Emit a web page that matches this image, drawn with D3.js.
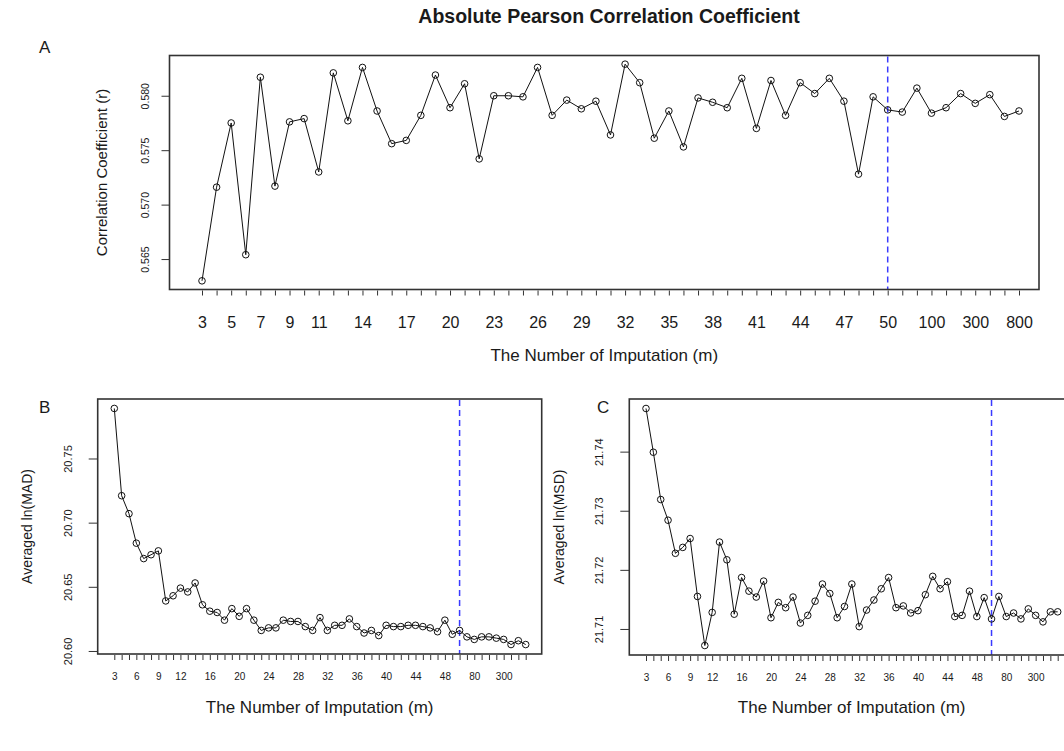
<!DOCTYPE html>
<html>
  <head>
    <meta charset="utf-8">
    <title>Absolute Pearson Correlation Coefficient</title>
    <script src="https://d3js.org/d3.v7.min.js"></script>
    <style>
      body { margin: 0; background: #fff; }
      text { font-family: "Liberation Sans", Arial, sans-serif; fill: #1a1a1a; }
    </style>
  </head>
  <body>

    <svg id="grafico" width="1064" height="751"></svg>

    <script>
    // number of imputations (m) -- one category per point
    const mLevels = ["3","4","5","6","7","8","9","10","11","12","13","14","15","16","17","18","19","20",
      "21","22","23","24","25","26","27","28","29","30","31","32","33","34","35","36","37","38","39","40",
      "41","42","43","44","45","46","47","48","49","50","60","80","100","150","200","300","400","600","800"];

    // panel A: absolute pearson r
    const pearsonR = [0.5630,0.5716,0.5775,0.5654,0.5817,0.5717,0.5776,0.5779,0.5730,0.5821,
      0.5777,0.5826,0.5786,0.5756,0.5759,0.5782,0.5819,0.5789,0.5811,0.5742,
      0.5800,0.5800,0.5799,0.5826,0.5782,0.5796,0.5788,0.5795,0.5764,0.5829,
      0.5812,0.5761,0.5786,0.5753,0.5798,0.5794,0.5789,0.5816,0.5770,0.5814,
      0.5782,0.5812,0.5802,0.5816,0.5795,0.5728,0.5799,0.5787,0.5785,0.5807,
      0.5784,0.5789,0.5802,0.5793,0.5801,0.5781,0.5786];

    // panel B: averaged ln(MAD)
    const lnMAD = [20.789,20.721,20.707,20.684,20.672,20.675,20.678,20.639,20.643,20.649,
      20.646,20.653,20.636,20.631,20.630,20.624,20.633,20.627,20.633,20.624,
      20.616,20.618,20.618,20.624,20.623,20.623,20.619,20.616,20.626,20.616,
      20.620,20.620,20.625,20.619,20.614,20.616,20.612,20.620,20.619,20.619,
      20.620,20.620,20.619,20.618,20.615,20.624,20.613,20.616,20.611,20.609,
      20.611,20.611,20.610,20.609,20.605,20.608,20.605];

    // panel C: averaged ln(MSD)
    const lnMSD = [21.7473,21.7399,21.7319,21.7284,21.7228,21.7238,21.7253,21.7155,21.7072,21.7128,
      21.7247,21.7217,21.7125,21.7187,21.7164,21.7154,21.7181,21.7119,21.7145,21.7136,
      21.7154,21.7110,21.7123,21.7147,21.7176,21.7160,21.7119,21.7138,21.7176,21.7104,
      21.7132,21.7149,21.7168,21.7187,21.7136,21.7139,21.7127,21.7131,21.7158,21.7189,
      21.7168,21.7180,21.7121,21.7123,21.7164,21.7121,21.7153,21.7117,21.7155,21.7121,
      21.7127,21.7117,21.7134,21.7123,21.7112,21.7129,21.7129];

    // tick labels that R managed to print
    const xLabelsA = ["3","5","7","9","11","14","17","20","23","26","29","32","35","38","41","44","47","50","100","300","800"];
    const xLabelsBC = ["3","6","9","12","16","20","24","28","32","36","40","44","48","80","300"];
    const yTicksA = [0.565, 0.570, 0.575, 0.580];
    const yTicksB = [20.60, 20.65, 20.70, 20.75];
    const yTicksC = [21.71, 21.72, 21.73, 21.74];
    const cutoffM = "50";

    const svg = d3.select("#grafico");
    svg.append("rect").attr("width",1064).attr("height",751).attr("fill","#fff");

    // title
    svg.append("text")
      .attr("x",609).attr("y",23)
      .attr("text-anchor","middle")
      .attr("font-size",19.5).attr("font-weight","bold")
      .text("Absolute Pearson Correlation Coefficient");

    function drawPanel(p){
      let g = svg.append("g");

      let x = d3.scalePoint().domain(mLevels).range([p.x0, p.x1]);
      // R style: data range + 4%
      let ext = d3.extent(p.values);
      let pad = (ext[1]-ext[0])*0.04;
      let y = d3.scaleLinear().domain([ext[0]-pad, ext[1]+pad]).range([p.bottom, p.top]);

      // x axis
      let xAxis = d3.axisBottom(x)
        .tickSize(p.xTick)
        .tickFormat(d => p.xLabels.includes(d) ? d : "");
      let gx = g.append("g").attr("transform","translate(0,"+(p.bottom+1)+")").call(xAxis);
      gx.select(".domain").remove();
      gx.selectAll("line").attr("stroke","#333");
      gx.selectAll("text")
        .attr("font-size",p.xFont)
        .attr("fill","#1a1a1a")
        .attr("font-family","Liberation Sans, Arial, sans-serif")
        .attr("y",p.xLabelY)
        .attr("dy",0);

      // y axis, labels rotated like R's las=0
      let yAxis = d3.axisLeft(y).tickValues(p.yTicks).tickSize(p.yTick).tickFormat(d3.format(p.yFmt));
      let gy = g.append("g").attr("transform","translate("+p.left+",0)").call(yAxis);
      gy.select(".domain").remove();
      gy.selectAll("line").attr("stroke","#333");
      gy.selectAll("text")
        .attr("font-size",p.yFont)
        .attr("fill","#1a1a1a")
        .attr("font-family","Liberation Sans, Arial, sans-serif")
        .attr("text-anchor","middle")
        .attr("x",0).attr("dy",0)
        .attr("transform","translate("+(-p.yLabelOff)+",0) rotate(-90)");

      // cut-off line
      g.append("line")
        .attr("x1",x(cutoffM)).attr("x2",x(cutoffM))
        .attr("y1",p.top+1).attr("y2",p.bottom)
        .attr("stroke","#3a3aff")
        .attr("stroke-width",1.5)
        .attr("stroke-dasharray","6,4");

      // line + open circles
      let line = d3.line().x((d,i)=>x(mLevels[i])).y(d=>y(d));
      g.append("path")
        .attr("d",line(p.values))
        .attr("fill","none")
        .attr("stroke","#111")
        .attr("stroke-width",1);
      g.selectAll("circle")
        .data(p.values)
        .enter()
        .append("circle")
        .attr("cx",(d,i)=>x(mLevels[i]))
        .attr("cy",d=>y(d))
        .attr("r",p.r)
        .attr("fill","none")
        .attr("stroke","#111")
        .attr("stroke-width",1);

      // box
      g.append("rect")
        .attr("x",p.left).attr("y",p.top)
        .attr("width",p.right-p.left).attr("height",p.bottom-p.top)
        .attr("fill","none")
        .attr("stroke","#333")
        .attr("stroke-width",1.6);

      // axis titles
      g.append("text")
        .attr("x",(p.left+p.right)/2).attr("y",p.xTitleY)
        .attr("text-anchor","middle")
        .attr("font-size",p.titleFont)
        .text(p.xTitle);
      g.append("text")
        .attr("transform","translate("+p.yTitleX+","+((p.top+p.bottom)/2)+") rotate(-90)")
        .attr("text-anchor","middle")
        .attr("font-size",p.yTitleFont)
        .text(p.yTitle);

      // panel letter
      g.append("text")
        .attr("x",p.letterX).attr("y",p.letterY)
        .attr("font-size",17)
        .text(p.letter);
    }

    drawPanel({
      values: pearsonR, x0: 202, x1: 1019,
      left: 169.5, right: 1039, top: 55.5, bottom: 289.5,
      xLabels: xLabelsA, xTick: 5, xFont: 16, xLabelY: 37,
      yTicks: yTicksA, yTick: 8, yFmt: ".3f", yFont: 10.5, yLabelOff: 21,
      r: 3.3, xTitle: "The Number of Imputation (m)", xTitleY: 361, titleFont: 17,
      yTitle: "Correlation Coefficient (r)", yTitleX: 107, yTitleFont: 15,
      letter: "A", letterX: 39, letterY: 53
    });

    drawPanel({
      values: lnMAD, x0: 114.3, x1: 525.7,
      left: 97.7, right: 541.7, top: 399, bottom: 654,
      xLabels: xLabelsBC, xTick: 5, xFont: 10, xLabelY: 25,
      yTicks: yTicksB, yTick: 9, yFmt: ".2f", yFont: 11, yLabelOff: 26,
      r: 3.3, xTitle: "The Number of Imputation  (m)", xTitleY: 713, titleFont: 17,
      yTitle: "Averaged ln(MAD)", yTitleX: 32, yTitleFont: 14,
      letter: "B", letterX: 39, letterY: 413
    });

    drawPanel({
      values: lnMSD, x0: 646, x1: 1057.7,
      left: 629.3, right: 1074, top: 399, bottom: 655,
      xLabels: xLabelsBC, xTick: 5, xFont: 10, xLabelY: 25,
      yTicks: yTicksC, yTick: 9, yFmt: ".2f", yFont: 11, yLabelOff: 26,
      r: 3.3, xTitle: "The Number of Imputation  (m)", xTitleY: 713, titleFont: 17,
      yTitle: "Averaged ln(MSD)", yTitleX: 564, yTitleFont: 14,
      letter: "C", letterX: 597, letterY: 413
    });
    </script>

  </body>
</html>
